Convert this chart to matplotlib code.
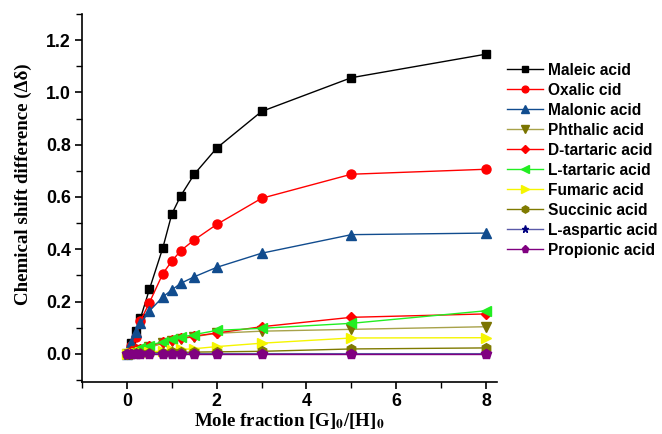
import matplotlib
matplotlib.use("Agg")
import matplotlib.pyplot as plt
from matplotlib.ticker import MultipleLocator, FormatStrFormatter

x = [0, 0.1, 0.2, 0.3, 0.5, 0.8, 1.0, 1.2, 1.5, 2, 3, 5, 8]

names = ["Maleic acid", "Oxalic cid", "Malonic acid", "Phthalic acid", "D-tartaric acid",
         "L-tartaric acid", "Fumaric acid", "Succinic acid", "L-aspartic acid", "Propionic acid"]

maleic = [0, 0.04, 0.088, 0.136, 0.247, 0.406, 0.535, 0.605, 0.687, 0.787, 0.927, 1.056, 1.146]
oxalic = [0, 0.03, 0.066, 0.126, 0.196, 0.307, 0.355, 0.395, 0.436, 0.495, 0.595, 0.687, 0.706]
malonic = [0, 0.041, 0.083, 0.117, 0.164, 0.218, 0.245, 0.27, 0.295, 0.331, 0.385, 0.456, 0.462]
phthalic = [0, 0.005, 0.01, 0.015, 0.025, 0.04, 0.05, 0.058, 0.066, 0.079, 0.087, 0.094, 0.104]
dtartaric = [0, 0.01, 0.017, 0.02, 0.03, 0.045, 0.055, 0.06, 0.068, 0.08, 0.104, 0.14, 0.153]
ltartaric = [0, 0.008, 0.015, 0.022, 0.032, 0.047, 0.057, 0.064, 0.074, 0.09, 0.098, 0.117, 0.165]
fumaric = [0, 0.002, 0.004, 0.006, 0.008, 0.011, 0.014, 0.017, 0.02, 0.028, 0.041, 0.061, 0.062]
succinic = [0, 0.001, 0.002, 0.003, 0.004, 0.005, 0.006, 0.006, 0.007, 0.008, 0.01, 0.019, 0.023]
laspartic = [0, 0, 0, 0.001, 0.001, 0.001, 0.001, 0.001, 0.001, 0.001, 0.001, 0.001, 0.001]
propionic = [0, 0, 0, 0, 0, 0, 0, 0, 0, 0, 0, 0, 0]

series = [maleic, oxalic, malonic, phthalic, dtartaric, ltartaric, fumaric, succinic, laspartic, propionic]
styles = [
    dict(color="black", marker="s", ms=5.5),
    dict(color="red", marker="o", ms=6.5),
    dict(color="#114c8e", marker="^", ms=7),
    dict(color="#a8a24a", mfc="#7a7400", mec="#7a7400", marker="v", ms=7),
    dict(color="red", marker="D", ms=5.5),
    dict(color="#22ee22", marker="<", ms=7),
    dict(color="#f5f500", marker=">", ms=7),
    dict(color="#7f7a00", marker="h", ms=7),
    dict(color="#5a5aa8", mfc="#000080", mec="#000080", marker="*", ms=7),
    dict(color="#800080", marker="p", ms=7),
]

plt.rcParams["mathtext.fontset"] = "stix"
fig = plt.figure(figsize=(6.62, 4.34), dpi=100)
ax = fig.add_axes([0.124, 0.12, 0.627, 0.848])

for y, name, st in zip(series, names, styles):
    st = dict(st)
    c = st.pop("color")
    st.setdefault("mfc", c)
    st.setdefault("mec", c)
    ax.plot(x, y, color=c, lw=1, label=name, **st)

ax.set_xlim(-1, 8.25)
ax.set_ylim(-0.107, 1.3)
ax.xaxis.set_major_locator(MultipleLocator(2))
ax.xaxis.set_minor_locator(MultipleLocator(1))
ax.yaxis.set_major_locator(MultipleLocator(0.2))
ax.yaxis.set_minor_locator(MultipleLocator(0.1))
ax.yaxis.set_major_formatter(FormatStrFormatter("%.1f"))
ax.spines["top"].set_visible(False)
ax.spines["right"].set_visible(False)
for s in ("left", "bottom"):
    ax.spines[s].set_linewidth(1.2)
ax.tick_params(which="major", length=5, width=1.2, direction="out", pad=3)
ax.tick_params(which="minor", length=4, width=1.0, direction="out")
for lab in ax.get_xticklabels() + ax.get_yticklabels():
    lab.set_fontfamily("Liberation Sans")
    lab.set_fontweight("bold")
    lab.set_fontsize(12.8)

ax.set_ylabel("Chemical shift difference (\u0394\u03b4)", family="Liberation Serif",
              weight="bold", fontsize=13.6)
ax.yaxis.set_label_coords(-0.12, 0.538)
ax.set_xlabel(r"Mole fraction [G]$_\mathbf{0}$/[H]$_\mathbf{0}$", family="Liberation Serif",
              weight="bold", fontsize=13.6, labelpad=1)

fig.legend(loc="upper left", bbox_to_anchor=(0.766, 0.855), frameon=False,
           prop={"family": "Liberation Sans", "weight": "bold", "size": 11.2},
           handlelength=2.3, handletextpad=0.3, labelspacing=0.32, markerscale=0.75,
           borderaxespad=0, borderpad=0)

fig.savefig("out.png", dpi=100)
